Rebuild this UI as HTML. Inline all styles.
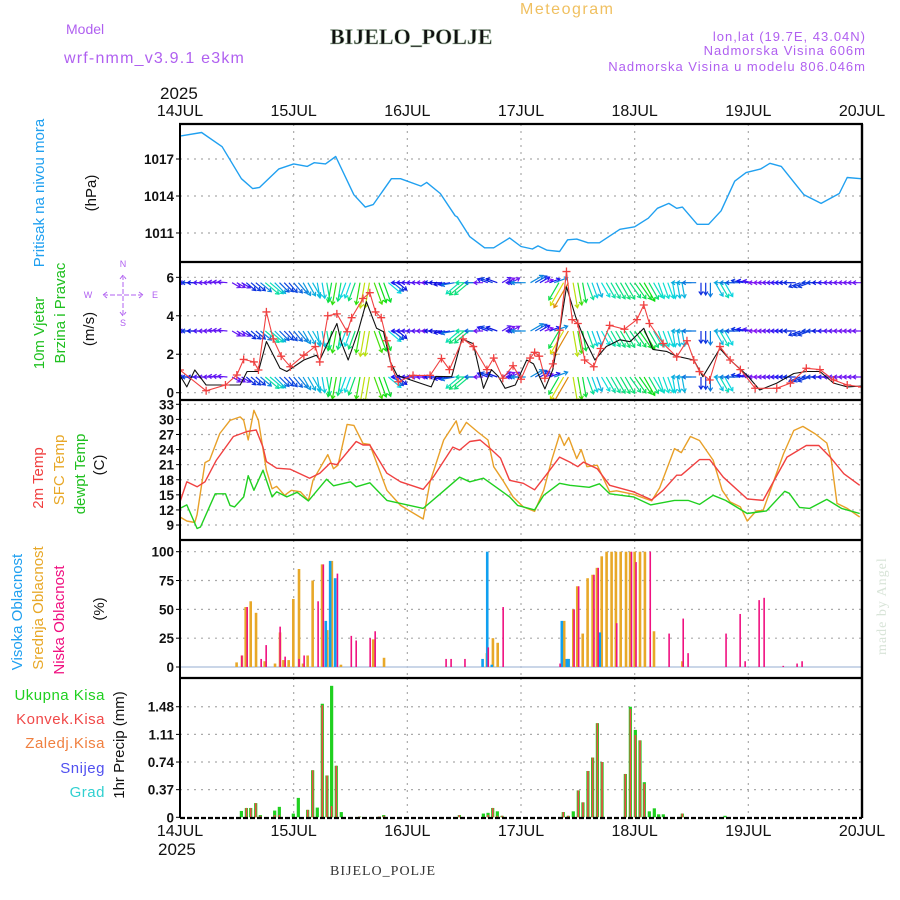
<!DOCTYPE html>
<html><head><meta charset="utf-8"><style>
body{margin:0;background:#fff;}
svg{display:block;font-family:"Liberation Sans",sans-serif;}
</style></head><body>
<svg id="c" width="900" height="900" viewBox="0 0 900 900" xmlns="http://www.w3.org/2000/svg">
<rect x="0" y="0" width="900" height="900" fill="#fff"/>
<text x="520" y="14" fill="#f0c060" font-size="16" letter-spacing="1.5">Meteogram</text>
<text x="66" y="34" fill="#b060f0" font-size="14">Model</text>
<text x="64" y="63" fill="#b060f0" font-size="16" letter-spacing="1.2">wrf-nmm_v3.9.1  e3km</text>
<text x="330" y="44" fill="#111" font-size="22" font-weight="bold" font-family="Liberation Serif,serif" stroke="#b0c8b0" stroke-width="0.6">BIJELO_POLJE</text>
<text x="866" y="41" fill="#b060f0" font-size="13" text-anchor="end" letter-spacing="1">lon,lat (19.7E, 43.04N)</text>
<text x="866" y="55" fill="#b060f0" font-size="13" text-anchor="end" letter-spacing="1">Nadmorska Visina 606m</text>
<text x="866" y="71" fill="#b060f0" font-size="13" text-anchor="end" letter-spacing="1">Nadmorska Visina u modelu 806.046m</text>
<text x="160" y="99" fill="#111" font-size="17">2025</text>
<g id="g"></g>
<text x="330" y="875" fill="#333" font-size="14" font-family="Liberation Serif,serif" letter-spacing="1">BIJELO_POLJE</text>
<text transform="translate(886,655) rotate(-90)" fill="#d8e4d8" font-size="14" font-family="Liberation Serif,serif" letter-spacing="1">made by Angel</text>
</svg>
<script>
// ---- data ----
const dayLabels=["14JUL","15JUL","16JUL","17JUL","18JUL","19JUL","20JUL"];
const pTicks=[1011,1014,1017];
const wTicks=[0,2,4,6];
const tTicks=[9,12,15,18,21,24,27,30,33];
const cTicks=[0,25,50,75,100];
const rTicks=[0.37,0.74,1.11,1.48];
const rTickLabels=["0.37","0.74","1.11","1.48"];

const pT=[0,.19,.37,.54,.64,.7,.87,1.0,1.12,1.18,1.28,1.37,1.53,1.63,1.7,1.86,1.94,2.12,2.17,2.29,2.42,2.44,2.55,2.68,2.76,2.9,3.0,3.1,3.15,3.23,3.34,3.41,3.49,3.59,3.69,3.87,4.0,4.12,4.2,4.3,4.37,4.42,4.55,4.65,4.76,4.88,4.98,5.11,5.19,5.29,5.49,5.64,5.8,5.87,5.99];
const pV=[1018.86,1019.15,1018.0,1015.4,1014.6,1014.7,1016.2,1016.6,1016.4,1016.7,1016.6,1017.2,1014.1,1013.1,1013.3,1015.4,1015.4,1014.8,1015.1,1014.2,1012.4,1012.3,1010.7,1009.8,1009.8,1010.6,1009.9,1009.7,1009.95,1009.6,1009.5,1010.45,1010.5,1010.2,1010.2,1011.3,1011.5,1012.2,1013.0,1013.4,1013.0,1013.1,1011.7,1011.7,1012.8,1015.2,1015.9,1016.2,1016.65,1016.4,1014.1,1013.4,1014.2,1015.5,1015.4];

const gT=[0,.23,.4,.5,.56,.65,.69,.76,.82,.89,.97,1.09,1.19,1.23,1.3,1.38,1.47,1.51,1.61,1.67,1.72,1.77,1.82,1.86,1.92,2.05,2.2,2.3,2.37,2.49,2.58,2.7,2.76,2.84,2.93,3.0,3.08,3.12,3.16,3.21,3.28,3.34,3.4,3.45,3.5,3.56,3.64,3.7,3.78,3.91,4.02,4.08,4.13,4.25,4.37,4.46,4.52,4.57,4.66,4.75,4.84,4.93,5.06,5.25,5.37,5.51,5.63,5.75,5.87,6.0];
const gV=[1.18,0.1,0.4,0.92,1.73,1.6,1.18,4.2,2.8,1.9,1.35,1.95,2.4,1.6,4.0,4.1,3.17,3.9,4.9,5.2,4.2,3.9,2.7,1.35,0.57,0.9,0.9,1.78,1.2,2.8,2.4,1.2,1.8,0.75,1.4,0.7,1.8,2.1,1.9,0.75,1.5,3.25,6.3,3.8,3.6,1.7,1.35,2.3,3.5,3.3,3.8,4.56,3.6,2.56,1.86,2.7,1.7,1.1,0.66,2.4,1.7,1.2,0.23,0.23,0.5,1.27,1.2,0.66,0.4,0.3];
const sT=[0,.06,.13,.23,.53,.59,.69,.76,.88,.94,1.09,1.2,1.23,1.38,1.42,1.48,1.57,1.64,1.73,1.79,1.85,1.91,2.21,2.25,2.39,2.48,2.58,2.67,2.74,2.8,2.86,2.95,3.05,3.11,3.15,3.21,3.28,3.34,3.4,3.48,3.55,3.65,3.75,3.87,3.96,4.08,4.16,4.28,4.37,4.52,4.6,4.75,4.84,4.99,5.1,5.25,5.4,5.51,5.63,5.75,5.87,6.0];
const sV=[0.9,0.3,1.18,0.4,0.4,1.1,1.1,2.66,1.27,1.1,1.7,1.95,1.7,3.6,2.6,1.7,3.25,4.73,3.35,3.17,1.6,0.9,0.3,0.85,0.83,2.8,2.55,0.23,1.2,0.85,0.23,0.4,1.7,1.5,1.0,0.2,1.2,3.2,5.5,3.95,2.9,1.7,2.4,2.75,2.65,3.35,2.25,2.15,1.9,1.7,0.83,2.3,1.7,0.9,0.14,0.5,1.0,1.1,1.1,0.5,0.3,0.35];

const dirT=[0,.125,.25,.375,.5,.625,.75,.875,1,1.125,1.25,1.375,1.5,1.625,1.75,1.875,2,2.125,2.25,2.375,2.5,2.625,2.75,2.875,3,3.125,3.25,3.375,3.5,3.625,3.75,3.875,4,4.125,4.25,4.375,4.5,4.625,4.75,4.875,5,5.125,5.25,5.375,5.5,5.625,5.75,5.875,6];
const dirV=[180,180,180,185,30,40,40,45,50,60,80,100,110,100,70,40,180,180,180,170,140,180,200,-30,180,-30,-20,120,80,70,60,60,55,60,70,80,180,90,60,180,190,180,180,180,160,180,180,180,180];

const tT=[0,.06,.15,.22,.32,.47,.59,.67,.73,.76,.85,.97,1.14,1.23,1.32,1.38,1.55,1.61,1.67,1.82,1.94,2.14,2.23,2.4,2.46,2.55,2.64,2.73,2.82,2.9,3.02,3.12,3.23,3.34,3.43,3.5,3.55,3.67,3.78,3.99,4.15,4.25,4.37,4.41,4.57,4.66,4.78,4.99,5.13,5.34,5.51,5.62,5.72,5.84,5.98];
const tV=[13.6,17.6,16.6,17.6,21.9,26.6,27.6,27.9,24.5,21.6,20.3,20.1,18.3,19.3,21.3,21.0,25.6,24.9,24.9,19.3,17.6,16.1,18.6,24.5,23.9,25.6,25.9,24.2,22.3,17.9,17.3,16.0,19.2,22.5,21.5,20.6,21.5,20.2,16.9,15.6,14.0,15.9,18.9,18.9,22.0,22.0,18.5,14.2,13.9,22.5,24.8,24.8,22.5,19.2,16.9];
const sfT=[0,.06,.13,.15,.22,.26,.35,.44,.53,.56,.6,.65,.69,.76,.81,.85,.92,.98,1.06,1.13,1.17,1.3,1.35,1.39,1.47,1.53,1.61,1.67,1.82,1.94,2.14,2.2,2.32,2.43,2.46,2.52,2.62,2.71,2.76,2.84,2.93,3.02,3.12,3.2,3.27,3.34,3.38,3.42,3.49,3.53,3.58,3.67,3.78,3.84,3.99,4.15,4.22,4.35,4.41,4.49,4.57,4.69,4.77,4.84,4.93,4.99,5.07,5.13,5.22,5.31,5.4,5.48,5.59,5.69,5.73,5.78,5.87,5.98];
const sfV=[10.6,9.8,9.5,11.1,21.4,21.9,27.2,29.8,30.5,29.8,25.9,31.8,29.8,19.9,16.2,16.7,14.9,15.9,15.6,13.9,17.9,23.0,20.2,20.9,29.0,28.8,25.2,25.0,15.9,12.9,10.2,17.6,25.9,29.7,27.2,29.4,27.5,25.9,20.6,17.9,14.6,12.6,11.7,15.9,21.9,27.0,24.8,26.4,22.2,24.0,20.6,20.9,15.6,15.8,15.1,13.8,16.4,24.2,23.4,26.6,25.8,21.9,15.9,13.6,12.6,9.8,11.8,11.9,17.5,23.2,27.8,28.6,27.1,25.3,21.9,13.3,12.3,10.6];
const dT=[0,.06,.15,.18,.31,.4,.44,.48,.56,.6,.65,.73,.81,.85,.94,1.03,1.13,1.29,1.35,1.5,1.55,1.67,1.82,1.94,2.14,2.29,2.46,2.55,2.67,2.82,2.9,2.97,3.12,3.2,3.34,3.43,3.6,3.69,3.78,3.99,4.14,4.35,4.47,4.57,4.69,4.8,4.99,5.16,5.32,5.36,5.45,5.54,5.69,5.82,5.98];
const dV=[12.3,13.0,8.3,8.6,15.2,15.2,12.9,12.6,14.6,18.8,15.9,19.9,14.6,15.6,14.6,15.5,13.8,18.1,16.8,17.6,16.6,17.4,13.9,13.3,12.3,15.2,18.5,17.6,18.3,15.9,14.6,12.9,12.0,14.9,17.3,16.9,16.5,17.2,15.2,14.6,13.0,13.9,13.9,13.1,14.9,13.9,11.3,11.8,15.7,15.3,12.5,12.3,14.1,12.3,11.3];

const hiT=[1.29,1.328,1.372,2.669,2.71,2.75,3.366,3.41,3.425,3.7];
const hiV=[40,92,77,7,100,2,40,7,7,30];
const midT=[0.498,0.545,0.578,0.622,0.669,0.745,0.836,0.88,0.91,0.956,0.997,1.047,1.082,1.123,1.167,1.25,1.295,1.336,1.416,1.70,1.795,2.70,2.753,2.795,3.38,3.42,3.46,3.495,3.543,3.586,3.63,3.668,3.71,3.753,3.797,3.835,3.877,3.924,3.96,4.0,4.047,4.09,4.17,4.42];
const midV=[4,10,52,57,47,5,3,30,6,6,59,85,3,10,75,89,32,92,2,24,8,12,25,21,40,7,50,70,29,77,80,86,96,100,100,100,100,100,100,100,100,100,31,5];
const lowT=[0.537,0.584,0.707,0.751,0.874,0.918,1.04,1.085,1.208,1.254,1.378,1.5,1.543,1.666,1.71,2.334,2.378,2.5,2.705,2.836,3.337,3.46,3.50,3.635,3.672,3.835,3.965,4.005,4.13,4.296,4.42,4.463,4.797,4.921,4.965,5.088,5.132,5.30,5.422,5.466];
const lowV=[10,52,7,19,35,9,7,10,57,89,81,27,23,25,31,7,7,7,17,52,3,50,70,80,86,38,100,91,100,29,42,12,29,46,5,58,60,1,3,5];

const rT=[0.54,0.584,0.622,0.666,0.707,0.833,0.874,0.997,1.041,1.123,1.167,1.208,1.252,1.293,1.334,1.375,1.419,1.58,1.753,1.792,2.458,2.669,2.71,2.751,2.792,2.833,3.372,3.416,3.46,3.504,3.545,3.589,3.63,3.672,3.713,3.918,3.962,4.006,4.047,4.085,4.129,4.173,4.211,4.252,4.419,4.795];
const rTot=[0.085,0.125,0.125,0.19,0.03,0.09,0.14,0.05,0.26,0.1,0.63,0.13,1.52,0.56,1.76,0.69,0.07,0.01,0.01,0.03,0.03,0.05,0.06,0.125,0.08,0.02,0.07,0.02,0.08,0.36,0.2,0.62,0.8,1.26,0.74,0.58,1.48,1.17,1.03,0.47,0.08,0.12,0.04,0.04,0.05,0.02];
const rConv=[0,0.125,0.125,0.19,0.02,0.03,0.03,0,0,0.1,0.63,0,1.5,0.56,0.15,0.69,0,0.01,0.01,0.02,0.03,0,0.03,0.125,0.02,0.02,0.07,0.02,0,0.36,0.2,0.62,0.8,1.26,0.74,0.58,1.45,1.1,1.03,0.45,0,0,0,0,0.05,0];

// ---- axes ----
const X0=180,X1=862,DAY=(X1-X0)/6;
const X=f=>X0+f*DAY;
const Yp=v=>159-(v-1017)*12.33;
const Yw=s=>392.7-s*19.23;
const Yt=t=>404.3+(33-t)*5.03;
const Yc=c=>667-c*1.153;
const Yr=r=>817.3-r*74.7;
const panels=[[124,262],[262,400],[400,540],[540,678],[678,818]];

const NS="http://www.w3.org/2000/svg";
const G=document.getElementById('g');
function mk(tag,attrs,parent){const e=document.createElementNS(NS,tag);for(const k in attrs)e.setAttribute(k,attrs[k]);(parent||G).appendChild(e);return e;}
function txt(x,y,s,attrs){const e=mk('text',Object.assign({x:x,y:y},attrs||{}));e.textContent=s;return e;}
function poly(ts,vs,yf,color,w){const pts=ts.map((t,i)=>X(t).toFixed(1)+","+yf(vs[i]).toFixed(1)).join(" ");return mk('polyline',{points:pts,fill:'none',stroke:color,'stroke-width':w||1.3,'stroke-linejoin':'round'});}
function clipFor(i){const id='cp'+i;const cp=mk('clipPath',{id:id});mk('rect',{x:X0,y:panels[i][0],width:X1-X0,height:panels[i][1]-panels[i][0]},cp);return 'url(#'+id+')';}

// grid
for(let p=0;p<5;p++){
  for(let d=1;d<6;d++){
    const gl=mk('line',{x1:X(d),x2:X(d),y1:panels[p][0],y2:panels[p][1],stroke:'#aaa','stroke-width':1.2,'stroke-dasharray':'2,5'});
    
    
  }
}
function hgrid(vals,yf,p){vals.forEach(v=>{const gl=mk('line',{x1:X0,x2:X1,y1:yf(v),y2:yf(v),stroke:'#aaa','stroke-width':1.2,'stroke-dasharray':'2,5'});
  
  });}
hgrid(pTicks,Yp);hgrid(wTicks,Yw);hgrid(tTicks,Yt);hgrid(cTicks.slice(1),Yc);hgrid(rTicks,Yr);

// tick labels
function ticks(vals,labels,yf,name){vals.forEach((v,i)=>{const t=txt(174,yf(v)+5,labels[i],{'font-size':13.5,'font-weight':'bold','text-anchor':'end',fill:'#111'});
  
  
  mk('line',{x1:X0-4,x2:X0,y1:yf(v),y2:yf(v),stroke:'#000'});});}
ticks(pTicks,pTicks.map(String),Yp,'pressure-tick');
ticks(wTicks,wTicks.map(String),Yw,'wind-tick');
ticks(tTicks,tTicks.map(String),Yt,'temp-tick');
ticks(cTicks,cTicks.map(String),Yc,'cloud-tick');
ticks([0].concat(rTicks),["0"].concat(rTickLabels),Yr,'precip-tick');
dayLabels.forEach((s,i)=>{
  const a=txt(X(i),116,s,{'font-size':16,'text-anchor':'middle',fill:'#111'});
  
  
  const b=txt(X(i),836,s,{'font-size':16,'text-anchor':'middle',fill:'#111'});
  
  
});
txt(158,855,"2025",{'font-size':17,fill:'#111'});

// pressure
const pl=poly(pT,pV,Yp,'#20a0f0',1.4);pl.setAttribute('clip-path',clipFor(0));



// wind
function interp(ts,vs,t){if(t<=ts[0])return vs[0];for(let i=1;i<ts.length;i++){if(t<=ts[i]){const a=(t-ts[i-1])/(ts[i]-ts[i-1]);return vs[i-1]+a*(vs[i]-vs[i-1]);}}return vs[vs.length-1];}
function nearest(ts,vs,t){let b=0;for(let i=0;i<ts.length;i++)if(Math.abs(ts[i]-t)<Math.abs(ts[b]-t))b=i;return vs[b];}
const wg=mk('g',{'clip-path':clipFor(1)});


function spdColor(s){const h=Math.max(35,280-s*48);return 'hsl('+h+',90%,'+(h>240?'52%':'46%')+')';}
[282.7,331,377].forEach(ry=>{
  for(let k=0;k<=144;k++){
    const t=k/24;const s=interp(sT,sV,t);const dg=nearest(dirT,dirV,t)*Math.PI/180;
    const L=8+s*4;const x=X(t),y=ry;const x2=x+Math.cos(dg)*L,y2=y+Math.sin(dg)*L;
    const col=spdColor(s);
    const ah=4,a1=dg+Math.PI*0.82,a2=dg-Math.PI*0.82;
    const ar=mk('path',{d:`M${x.toFixed(1)},${y.toFixed(1)}L${x2.toFixed(1)},${y2.toFixed(1)}M${(x2+Math.cos(a1)*ah).toFixed(1)},${(y2+Math.sin(a1)*ah).toFixed(1)}L${x2.toFixed(1)},${y2.toFixed(1)}L${(x2+Math.cos(a2)*ah).toFixed(1)},${(y2+Math.sin(a2)*ah).toFixed(1)}`,stroke:col,'stroke-width':1.2,fill:'none'},wg);
    
    
  }
});
const sl=poly(sT,sV,Yw,'#111',1.1);sl.setAttribute('clip-path',clipFor(1));


const gl2=poly(gT,gV,Yw,'#f04040',1.1);gl2.setAttribute('clip-path',clipFor(1));


gT.forEach((t,i)=>{const x=X(t),y=Yw(gV[i]);
  const m=mk('path',{d:`M${x-4},${y}H${x+4}M${x},${y-4}V${y+4}`,stroke:'#f04040','stroke-width':1.3,'clip-path':'url(#cp1)'});
  
  });

// temps
const l1=poly(sfT,sfV,Yt,'#e8a028',1.4);
const l2=poly(tT,tV,Yt,'#f04040',1.4);
const l3=poly(dT,dV,Yt,'#20d020',1.4);

// clouds
mk('line',{x1:X0,x2:X1,y1:Yc(0),y2:Yc(0),stroke:'#b8c8e0','stroke-width':1.5});
function bars(ts,vs,yf,color,w,off,name){ts.forEach((t,i)=>{const y=yf(vs[i]);const b=mk('rect',{x:X(t)-w/2+off,y:y,width:w,height:Math.max(0,yf(0)-y),fill:color});
  
  });}
bars(midT,midV,Yc,'#e8a828',2.6,0,'mid-cloud-bar');
bars(hiT,hiV,Yc,'#10a0f0',2.6,-0.8,'high-cloud-bar');
bars(lowT,lowV,Yc,'#f01080',1.6,0.8,'low-cloud-bar');

// precip
bars(rT,rTot,Yr,'#20d020',3.2,0,'total-precip-bar');
bars(rT,rConv,Yr,'#f04848',1.6,0,'conv-precip-bar');

// panel borders
panels.forEach((p,i)=>{mk('line',{x1:X0-1,x2:X1+1,y1:p[0],y2:p[0],stroke:'#000','stroke-width':2.2});});
mk('line',{x1:X0,x2:X1,y1:818,y2:818,stroke:'#000','stroke-width':2.2,'stroke-dasharray':'5,2'});
mk('line',{x1:X0,x2:X0,y1:124,y2:818,stroke:'#000','stroke-width':2});
mk('line',{x1:X1,x2:X1,y1:124,y2:818,stroke:'#000','stroke-width':2.4});

// left labels
function vlab(x,y,s,col,size,name){const t=txt(0,0,s,{transform:`translate(${x},${y}) rotate(-90)`,fill:col,'font-size':size||14,'text-anchor':'middle'});
  
  }
vlab(44,193,"Pritisak na nivou mora",'#20a0f0',15,'pressure-axis-title');
vlab(96,193,"(hPa)",'#111',15,'pressure-unit');
vlab(44,333,"10m Vjetar",'#20c020',15,'wind-axis-title');
vlab(65,313,"Brzina i Pravac",'#20c020',15,'wind-axis-subtitle');
vlab(94,329,"(m/s)",'#111',15,'wind-unit');
vlab(43,478,"2m Temp",'#f04040',15,'temp-2m-title');
vlab(64,470,"SFC Temp",'#e8a828',15,'sfc-temp-title');
vlab(85,474,"dewpt Temp",'#20c020',15,'dewpt-title');
vlab(104,465,"(C)",'#111',15,'temp-unit');
vlab(22,612,"Visoka Oblacnost",'#20a0f0',15,'high-cloud-title');
vlab(43,608,"Srednja Oblacnost",'#e8a828',15,'mid-cloud-title');
vlab(64,620,"Niska Oblacnost",'#f01080',15,'low-cloud-title');
vlab(104,609,"(%)",'#111',15,'cloud-unit');
vlab(124,745,"1hr Precip (mm)",'#111',15,'precip-axis-title');
[["Ukupna  Kisa",'#20d020',700],["Konvek.Kisa",'#f04848',724],["Zaledj.Kisa",'#f08040',748],["Snijeg",'#5050f0',773],["Grad",'#30d0d0',797]].forEach(a=>{
  const t=txt(105,a[2],a[0],{fill:a[1],'font-size':15,'text-anchor':'end','letter-spacing':0.5});
  
  });
// compass
const cg=mk('g',{fill:'#b060f0','font-size':9,stroke:'none'});


[["N",123,267],["W",88,298],["E",155,298],["S",123,326]].forEach(a=>{const t=txt(a[1],a[2],a[0],{'text-anchor':'middle',fill:'#b060f0','font-size':9});cg.appendChild(t);});
mk('path',{d:'M103,295H143M123,275V316M107,292L103,295L107,298M139,292L143,295L139,298M120,279L123,275L126,279M120,312L123,316L126,312',stroke:'#b060f0','stroke-width':1,fill:'none','stroke-dasharray':'5,2'},cg);
</script>
</body></html>
